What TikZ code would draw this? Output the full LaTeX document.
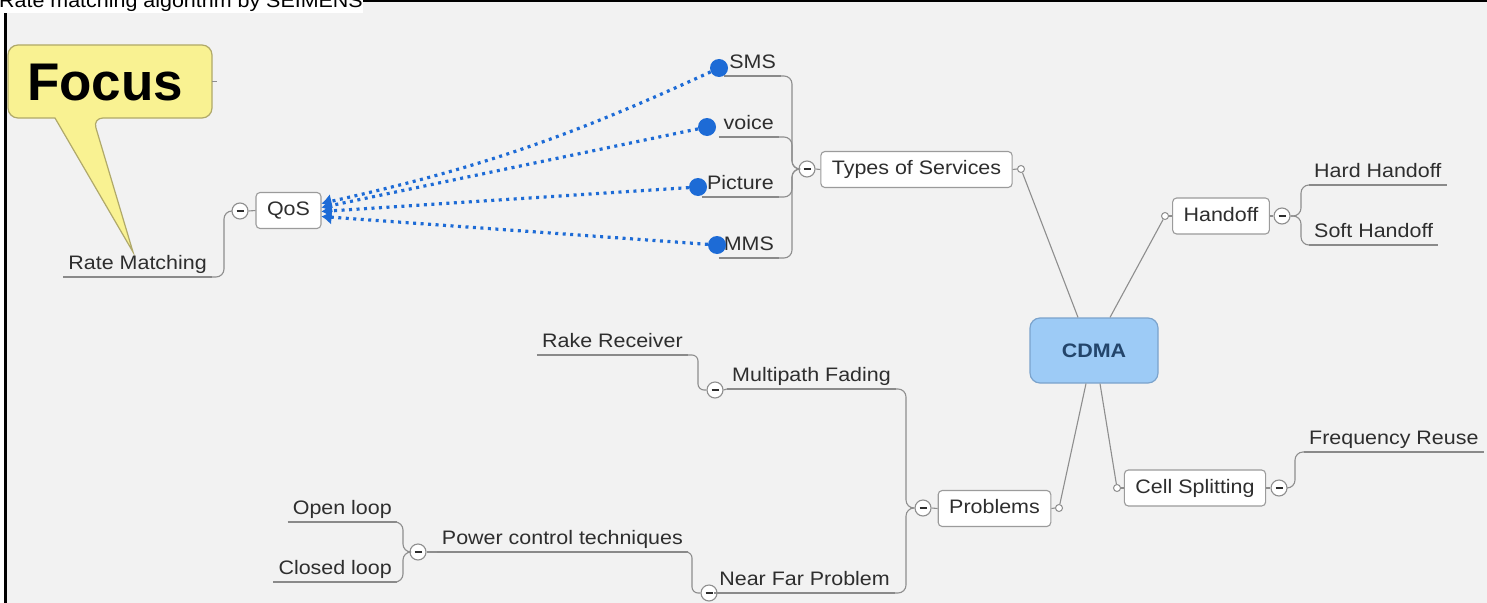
\documentclass[tikz,border=0pt]{standalone}
\usepackage{fontspec}
\setmainfont{Liberation Sans}
\newfontfamily\lab{Liberation Sans}[FakeStretch=1.1]
\usetikzlibrary{arrows.meta}
\definecolor{bg}{HTML}{F2F2F2}
\definecolor{linec}{HTML}{8E8E8E}
\definecolor{ulc}{HTML}{8A8A8A}
\definecolor{txt}{HTML}{2E2E2E}
\definecolor{boxc}{HTML}{9B9B9B}
\definecolor{cdmaf}{HTML}{9DCBF6}
\definecolor{cdmad}{HTML}{7BA3CC}
\definecolor{cdmat}{HTML}{23456B}
\definecolor{dotb}{HTML}{1D6BD6}
\definecolor{focf}{HTML}{F9F292}
\definecolor{focd}{HTML}{B0A96A}
\tikzset{
  conn/.style={draw=linec, line width=1.1pt},
  ul/.style={draw=ulc, line width=2pt},
  lbl/.style={font=\lab\fontsize{19.5}{22}\selectfont, text=txt},
  topic/.style={lbl, inner xsep=5pt, inner ysep=3pt, text height=14pt, text depth=4pt,
    append after command={(\tikzlastnode.south west) edge[ul] (\tikzlastnode.south east)}},
  box/.style={lbl, draw=boxc, fill=white, rounded corners=4pt, line width=1.1pt,
    inner xsep=11pt, minimum height=36pt, text height=14pt, text depth=4pt},
  sc/.style={circle, draw=linec, fill=white, line width=1pt, inner sep=0pt, minimum size=7pt},
  mc/.style={circle, draw=linec, fill=white, line width=1.1pt, inner sep=0pt, minimum size=16pt,
    path picture={\draw[line width=1.8pt, txt] ([xshift=-3.5pt]path picture bounding box.center) -- ([xshift=3.5pt]path picture bounding box.center);}},
  bdot/.style={circle, fill=dotb, inner sep=0pt, minimum size=18pt},
  dotc/.style={draw=dotb, line width=3.2pt, dash pattern=on 3pt off 4.5pt, -{Latex[length=10pt,width=15pt]}},
}
\begin{document}
\begin{tikzpicture}[x=1pt,y=-1pt]
\useasboundingbox (0,0) rectangle (1487,602);
\fill[white] (-5,-5) rectangle (1495,610);
\fill[bg] (5,0) rectangle (1495,610);
\draw[black, line width=3pt] (5.5,0) -- (5.5,610);
\draw[black, line width=2.5pt] (5,1.2) -- (1495,1.2);
\node[lbl, text=black, anchor=base west, fill=white, inner sep=0pt, text depth=5.5pt, text height=16pt] (title) at (-1,8) {Rate matching algorithm by SEIMENS};

% Focus callout
\draw[fill=focf, draw=focd, line width=1.2pt] (133,252) -- (55,118) [rounded corners=10pt] -- (8,118) -- (8,45) -- (212,45) -- (212,118) -- (93,118) [sharp corners] -- cycle;
\draw[linec, line width=1pt] (212,81) -- (217,81);
\node[font=\fontsize{53}{53}\selectfont\bfseries, text=black, anchor=base west, inner sep=0pt] (focus) at (27,100) {Focus};

% central node
\node[lbl, font=\lab\bfseries\fontsize{19.5}{22}\selectfont, text=cdmat, draw=cdmad, fill=cdmaf, rounded corners=10pt, line width=1.2pt, minimum width=128pt, minimum height=65pt] (cdma) at (1094,350.5) {CDMA};

% boxes
\node[box] (qos) at (288.5,210.5) {QoS};
\node[box] (types) at (916.5,169.5) {Types of Services};
\node[box] (hand) at (1221,216) {Handoff};
\node[box] (cell) at (1195,488) {Cell Splitting};
\node[box] (prob) at (994.5,508.5) {Problems};

% small connector circles
\node[sc] (sctypes) at (1021,169) {};
\node[sc] (schand) at (1165,216) {};
\node[sc] (sccell) at (1117,488) {};
\node[sc] (scprob) at (1059,508) {};

% minus circles
\node[mc] (mqos) at (240,211) {};
\node[mc] (mtypes) at (807,169) {};
\node[mc] (mhand) at (1282,216) {};
\node[mc] (mcell) at (1279,488) {};
\node[mc] (mprob) at (923,508) {};
\node[mc] (mmpf) at (715,390) {};
\node[mc] (mnf) at (709,593) {};
\node[mc] (mpct) at (418,552) {};

% topics
\node[topic, anchor=south east] (rate) at (212,277) {Rate Matching};
\node[topic, anchor=south east] (sms) at (781,76) {SMS};
\node[topic, anchor=south east] (voice) at (779,137) {voice};
\node[topic, anchor=south east] (pic) at (779,197) {Picture};
\node[topic, anchor=south east] (mms) at (779,258) {MMS};
\node[topic, anchor=south west] (hard) at (1309,185) {Hard Handoff};
\node[topic, anchor=south west] (soft) at (1309,245) {Soft Handoff};
\node[topic, anchor=south west] (freq) at (1304,452) {Frequency Reuse};
\node[topic, anchor=south east] (mpf) at (896,389) {Multipath Fading};
\node[topic, anchor=south east] (rake) at (688,355) {Rake Receiver};
\node[topic, anchor=south east] (nf) at (895,593) {Near Far Problem};
\node[topic, anchor=south east] (pct) at (688,552) {Power control techniques};
\node[topic, anchor=south east] (open) at (397,522) {Open loop};
\node[topic, anchor=south east] (closed) at (397,582) {Closed loop};

% blue dots
\node[bdot] (dsms) at (719,68) {};
\node[bdot] (dvoice) at (707,127) {};
\node[bdot] (dpic) at (698,187) {};
\node[bdot] (dmms) at (717,245) {};

% connectors
\draw[conn, rounded corners=8pt] (rate.south east) -| ([xshift=-16pt]mqos.center) -- (mqos.west);
\draw[conn] (mqos.east) -- (qos.west);
\foreach \c in {sms,voice,pic,mms}
  \draw[conn, rounded corners=8pt] (\c.south east) -| ([xshift=-15pt]mtypes.center) -- (mtypes.west);
\draw[conn] (mtypes.east) -- (types.west);
\draw[conn] (types.east) -- (sctypes.west);
\draw[conn] (sctypes) -- ([xshift=-16pt]cdma.north);
\draw[conn] (schand) -- ([xshift=16pt]cdma.north);
\draw[conn] (schand.east) -- (hand.west);
\draw[conn] (hand.east) -- (mhand.west);
\draw[conn, rounded corners=8pt] (mhand.east) -- ([xshift=19pt]mhand.center) |- (hard.south west);
\draw[conn, rounded corners=8pt] (mhand.east) -- ([xshift=19pt]mhand.center) |- (soft.south west);
\draw[conn] ([xshift=6pt]cdma.south) -- (sccell);
\draw[conn] (sccell.east) -- (cell.west);
\draw[conn] (cell.east) -- (mcell.west);
\draw[conn, rounded corners=8pt] (mcell.east) -- ([xshift=16pt]mcell.center) |- (freq.south west);
\draw[conn] ([xshift=-8pt]cdma.south) -- (scprob);
\draw[conn] (scprob.west) -- (prob.east);
\draw[conn] (prob.west) -- (mprob.east);
\draw[conn, rounded corners=8pt] (mprob.west) -- ([xshift=-17pt]mprob.center) |- (mpf.south east);
\draw[conn, rounded corners=8pt] (mprob.west) -- ([xshift=-17pt]mprob.center) |- (nf.south east);
\draw[conn] (mmpf.east) -- (mpf.south west);
\draw[conn, rounded corners=6pt] (mmpf.west) -| ([xshift=10pt]rake.south east) -- (rake.south east);
\draw[conn] (mnf.east) -- (nf.south west);
\draw[conn, rounded corners=6pt] (mnf.west) -| ([xshift=4pt]pct.south east) -- (pct.south east);
\draw[conn] (mpct.east) -- (pct.south west);
\draw[conn, rounded corners=8pt] (mpct.west) -- ([xshift=-15pt]mpct.center) |- (open.south east);
\draw[conn, rounded corners=8pt] (mpct.west) -- ([xshift=-15pt]mpct.center) |- (closed.south east);

% dotted relations
\draw[dotc] (dsms) to[bend left=6] ([yshift=7pt]qos.east);
\draw[dotc] (dvoice) -- ([yshift=3pt]qos.east);
\draw[dotc] (dpic) -- ([yshift=-1pt]qos.east);
\draw[dotc] (dmms) -- ([yshift=-6pt]qos.east);
\end{tikzpicture}
\end{document}
